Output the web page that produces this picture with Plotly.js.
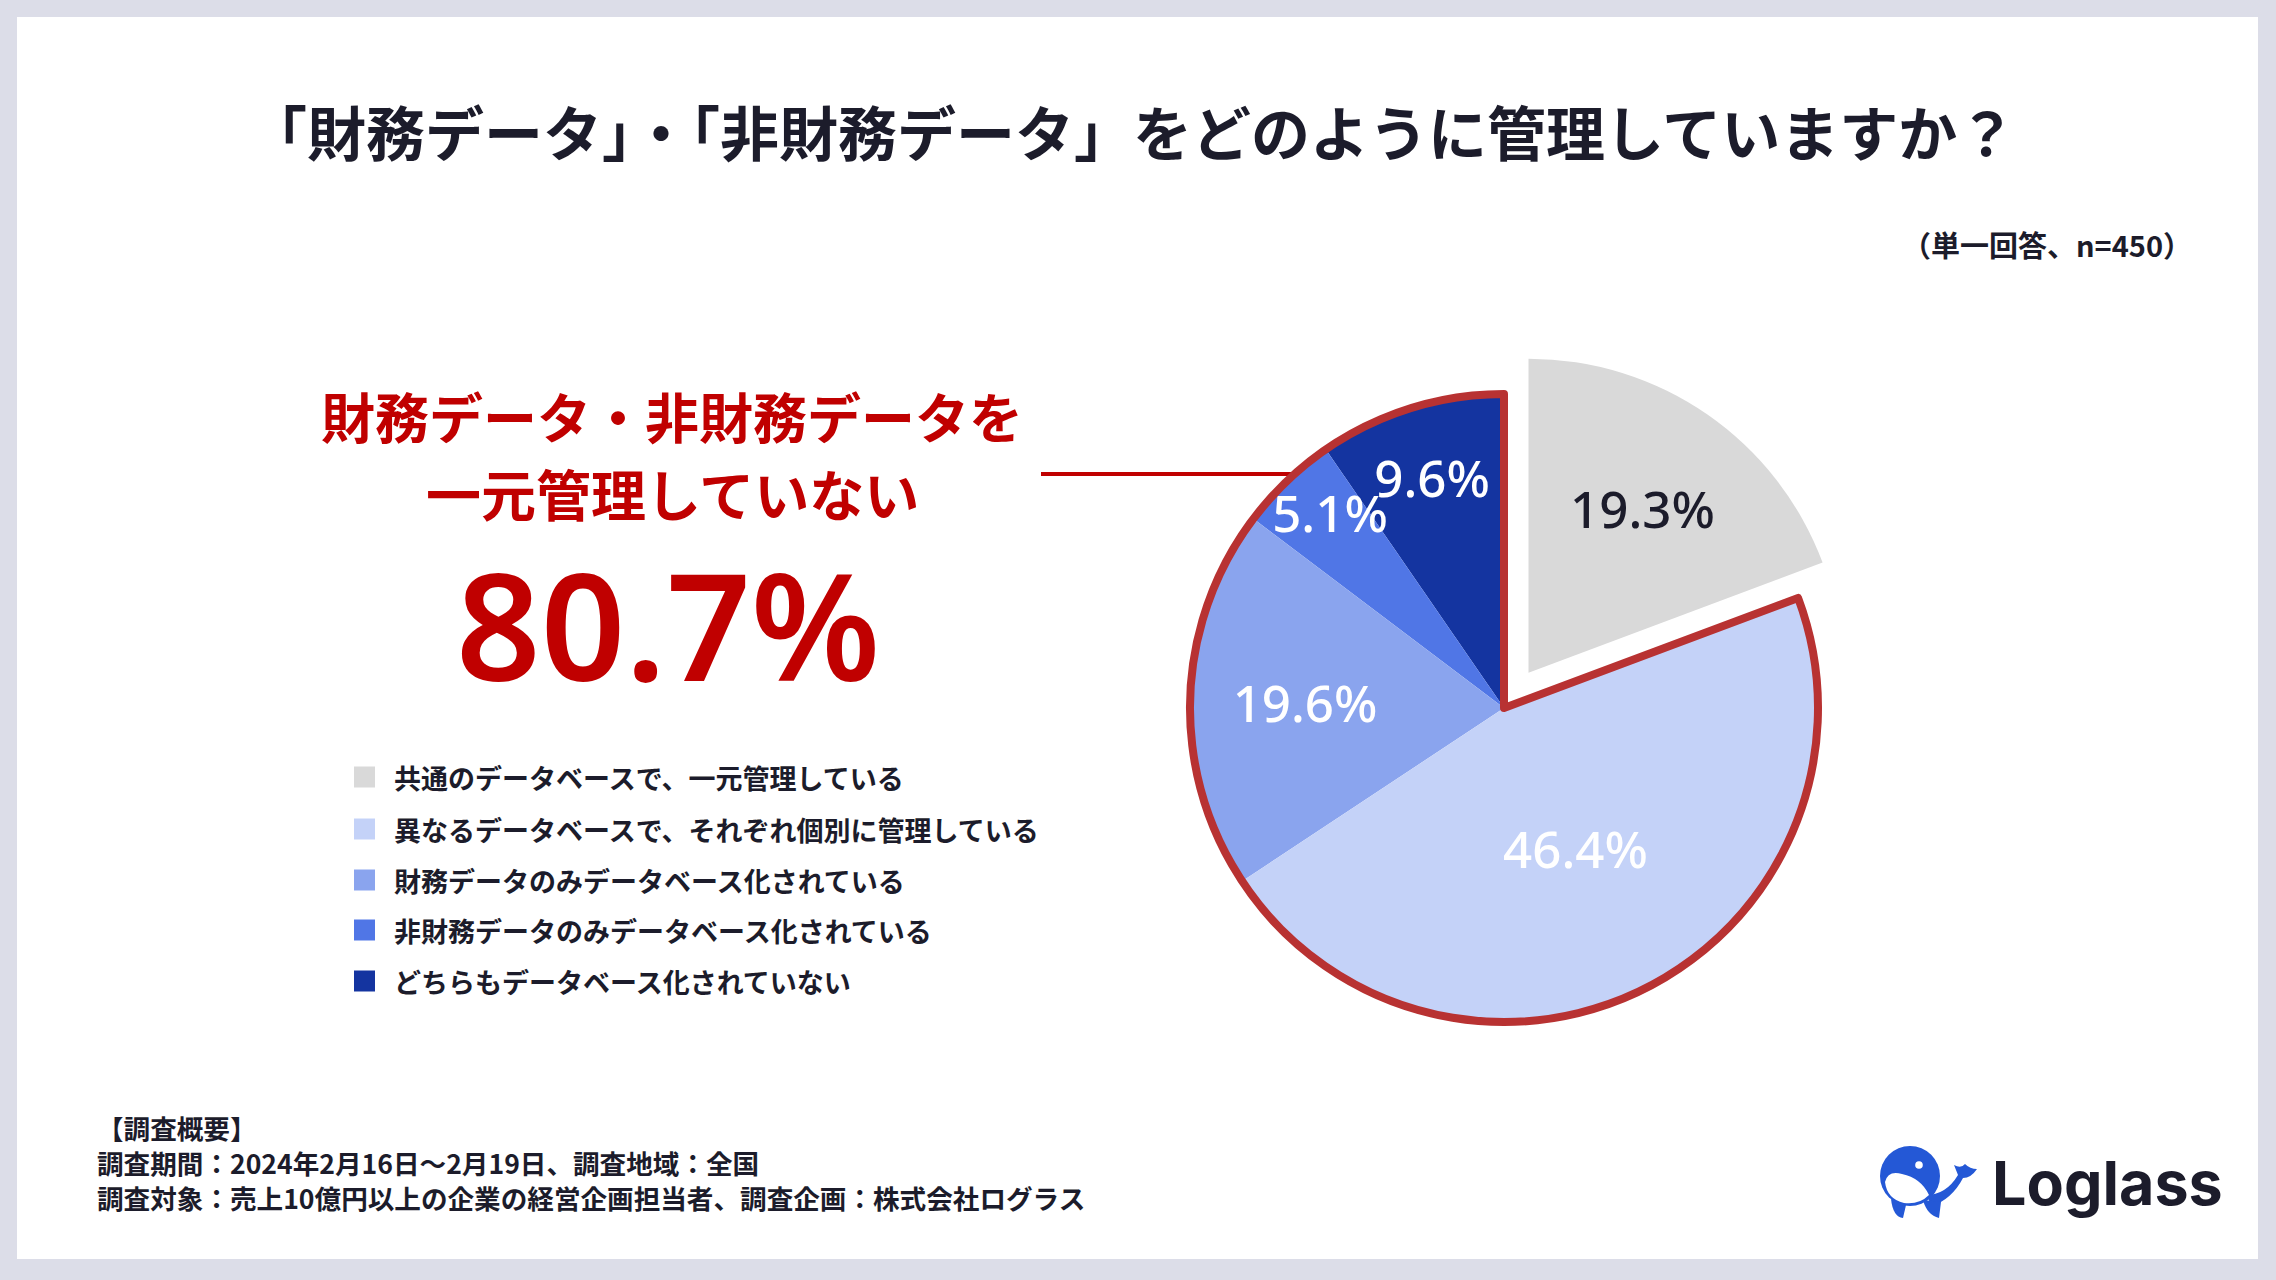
<!DOCTYPE html>
<html><head><meta charset="utf-8">
<script src="https://cdn.plot.ly/plotly-3.0.1.min.js"></script>
<style>html,body{margin:0;padding:0;background:#dcdde8;overflow:hidden;}</style>
</head><body><div id="chart" style="width:2276px;height:1280px;"></div>
<script>
// ---- data ----
const titleText = '「財務データ」・「非財務データ」をどのように管理していますか？';
const noteText = '（単一回答、n=450）';
const categories = [
  '共通のデータベースで、一元管理している',
  '異なるデータベースで、それぞれ個別に管理している',
  '財務データのみデータベース化されている',
  '非財務データのみデータベース化されている',
  'どちらもデータベース化されていない'
];
const values = [19.3, 46.4, 19.6, 5.1, 9.6];
const sliceColors = ['#d9d9d9', '#c4d2f8', '#8aa4ee', '#5076e6', '#1434a0'];
const labelColors = ['#1c1c2b', '#ffffff', '#ffffff', '#ffffff', '#ffffff'];
const groupLabels = ['一元管理している', '一元管理していない'];
const groupValues = [19.3, 80.7];
const calloutLines = ['財務データ・非財務データを', '一元管理していない'];
const footerLines = [
  '【調査概要】',
  '調査期間：2024年2月16日～2月19日、調査地域：全国',
  '調査対象：売上10億円以上の企業の経営企画担当者、調査企画：株式会社ログラス'
];
const brand = 'Loglass';

// ---- layout helpers ----
const W = 2276, H = 1280;
const X = p => p / W;
const Y = p => 1 - p / H;
const JP = '"Noto Sans CJK JP", "Noto Sans", sans-serif';
const INK = '#1c1c2b';
const RED = '#c00000';

const R = 314, PULL = 0.137, CX = 1504, CY = 708;
const half = R * (1 + PULL);
const domain = { x: [X(CX - half), X(CX + half)], y: [Y(CY + half), Y(CY - half)] };

// Slices are fed in reverse order and drawn counterclockwise: same picture as
// clockwise order from 12 o'clock, but the small slice's label is painted above
// its neighbour. Plotly puts the first counterclockwise slice right of the start
// angle, so rotate back by that slice's angle.
const rev = a => a.slice().reverse();
const total = values.reduce((s, v) => s + v, 0);
const revValues = rev(values);
const ccwRotation = -revValues[0] / total * 360;
const textTemplates = values.map(v => (v < 8 ? '\u00a0\u00a0' : '') + '%{value}%');
const pulls = values.map((v, i) => (i === 0 ? PULL : 0));

const mainPie = {
  type: 'pie', values: revValues, labels: rev(categories), sort: false,
  direction: 'counterclockwise', rotation: ccwRotation,
  pull: rev(pulls),
  marker: { colors: rev(sliceColors), line: { width: 0 } },
  texttemplate: rev(textTemplates), textposition: 'inside',
  insidetextorientation: 'horizontal',
  insidetextfont: { family: '"Noto Sans", sans-serif', size: 51, color: rev(labelColors), weight: 500 },
  hoverinfo: 'skip', showlegend: false, domain: domain
};
const outlinePie = {
  type: 'pie', values: groupValues, labels: groupLabels, sort: false,
  direction: 'clockwise', rotation: 0,
  pull: [PULL, 0],
  marker: { colors: ['rgba(0,0,0,0)', 'rgba(0,0,0,0)'], line: { color: '#b83232', width: [0, 8] } },
  textinfo: 'none', hoverinfo: 'skip', showlegend: false, domain: domain
};

const shapes = [
  { type: 'rect', xref: 'paper', yref: 'paper', x0: X(17), x1: X(2258), y0: Y(1259), y1: Y(17),
    fillcolor: '#ffffff', line: { width: 0 }, layer: 'below' },
  { type: 'line', xref: 'paper', yref: 'paper', x0: X(1041), x1: X(1293), y0: Y(474), y1: Y(474),
    line: { color: RED, width: 4 }, layer: 'below' }
];

const annotations = [
  { text: titleText, x: X(1132), y: Y(130), font: { family: JP, size: 59, color: INK, weight: 700 } },
  { text: noteText, x: X(2194), y: Y(244), xanchor: 'right', font: { family: JP, size: 29, color: INK, weight: 700 } },
  { text: calloutLines[0], x: X(672), y: Y(415), font: { family: JP, size: 54, color: RED, weight: 700 } },
  { text: calloutLines[1], x: X(672), y: Y(492), font: { family: JP, size: 55, color: RED, weight: 700 } },
  { text: groupValues[1].toFixed(1) + '%', x: X(668), y: Y(623), font: { family: '"Noto Sans", sans-serif', size: 148, color: RED, weight: 600 } },
  { text: brand, x: X(1990), y: Y(1183), xanchor: 'left', font: { family: 'Inter, sans-serif', size: 61, color: INK, weight: 700 } }
];

const legendY = [777, 829, 880, 930, 981];
categories.forEach((c, i) => {
  shapes.push({ type: 'rect', xref: 'paper', yref: 'paper',
    x0: X(354), x1: X(375), y0: Y(legendY[i] + 10.5), y1: Y(legendY[i] - 10.5),
    fillcolor: sliceColors[i], line: { width: 0 } });
  annotations.push({ text: c, x: X(392), y: Y(legendY[i]), xanchor: 'left',
    font: { family: JP, size: 27, color: INK, weight: 700 } });
});
const footerY = [1127, 1162, 1197];
footerLines.forEach((t, i) => {
  annotations.push({ text: t, x: X(95), y: Y(footerY[i]), xanchor: 'left',
    font: { family: JP, size: 26.6, color: INK, weight: 700 } });
});
annotations.forEach(a => {
  a.xref = 'paper'; a.yref = 'paper'; a.showarrow = false;
  if (!a.xanchor) a.xanchor = 'center';
  a.yanchor = 'middle';
});

const whale = "<svg xmlns='http://www.w3.org/2000/svg' viewBox='0 0 100 74'>" +
  "<g fill='#2458d6'>" +
  "<circle cx='32' cy='31' r='30'/>" +
  "<path d='M48 50 Q68 50 80 30 L76 20 Q83 24 87 19 Q92 24 99 24 Q93 33 85 33 Q74 54 54 61 Z'/>" +
  "<path d='M13 54 L28 60 L25 73 Q15 72 13 54 Z'/>" +
  "<path d='M45 55 L63 57 L61 73 Q49 70 45 55 Z'/>" +
  "</g>" +
  "<path d='M7 37 Q10 25 24 29 Q43 33 51 50 Q41 60 26 58 Q9 54 7 37 Z' fill='#ffffff'/>" +
  "<circle cx='41' cy='20' r='3.8' fill='#ffffff'/>" +
  "</svg>";

const layout = {
  width: W, height: H,
  margin: { l: 0, r: 0, t: 0, b: 0, pad: 0 },
  paper_bgcolor: '#dcdde8',
  showlegend: false,
  uniformtext: { mode: 'show', minsize: 51 },
  shapes: shapes,
  annotations: annotations,
  images: [{
    source: 'data:image/svg+xml;charset=utf-8,' + encodeURIComponent(whale),
    xref: 'paper', yref: 'paper', x: X(1878), y: Y(1145),
    sizex: 100 / W, sizey: 74 / H, xanchor: 'left', yanchor: 'top', sizing: 'stretch', layer: 'above'
  }]
};

Plotly.newPlot('chart', [mainPie, outlinePie], layout, { displayModeBar: false, staticPlot: true });
</script>
</body></html>
